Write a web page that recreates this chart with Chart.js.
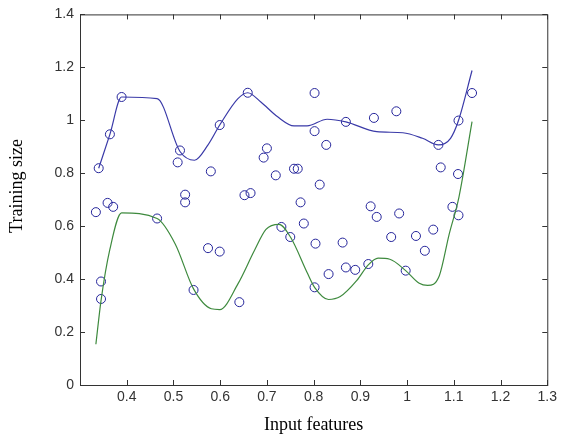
<!DOCTYPE html>
<html>
<head>
<meta charset="utf-8">
<script src="https://cdn.jsdelivr.net/npm/chart.js@4"></script>
<style>
  html, body { margin: 0; padding: 0; background: #fff; }
  #wrap { width: 561px; height: 439px; }
</style>
</head>
<body>
<div id="wrap"><canvas id="chart" width="561" height="439"></canvas></div>
<script>
// Тики осей
const xTicks = [0.4, 0.5, 0.6, 0.7, 0.8, 0.9, 1, 1.1, 1.2, 1.3];
const yTicks = [0, 0.2, 0.4, 0.6, 0.8, 1, 1.2, 1.4];
const xTitle = "Input features";
const yTitle = "Training size";

// Точки наблюдений (кружки)
const pointX = [0.340, 0.364, 0.389, 0.514, 0.509, 0.599, 0.659, 0.580, 0.700, 0.693,
  0.719, 0.758, 0.766, 0.525, 0.525, 0.652, 0.665, 0.334, 0.359, 0.371,
  0.465, 0.345, 0.345, 0.543, 0.574, 0.599, 0.641, 0.731, 0.750, 0.772,
  0.779, 0.802, 0.802, 0.827, 0.813, 0.869, 0.929, 0.977, 1.067, 1.110,
  1.139, 1.072, 1.109, 0.804, 0.802, 0.832, 0.862, 0.869, 0.889, 0.917,
  0.922, 0.935, 0.966, 0.983, 0.997, 1.019, 1.038, 1.056, 1.097, 1.110];
const pointY = [0.819, 0.947, 1.088, 0.886, 0.841, 0.982, 1.104, 0.807, 0.894, 0.859,
  0.792, 0.817, 0.817, 0.719, 0.690, 0.717, 0.725, 0.653, 0.688, 0.673,
  0.629, 0.391, 0.325, 0.359, 0.517, 0.504, 0.313, 0.597, 0.559, 0.690,
  0.610, 1.103, 0.959, 0.907, 0.757, 0.994, 1.009, 1.034, 0.907, 0.999,
  1.103, 0.822, 0.797, 0.534, 0.369, 0.419, 0.538, 0.444, 0.435, 0.457,
  0.675, 0.635, 0.559, 0.648, 0.432, 0.563, 0.507, 0.587, 0.673, 0.641];

// Верхняя кривая (синяя)
const upperX = [0.340, 0.364, 0.389, 0.465, 0.514, 0.545, 0.574, 0.599, 0.638, 0.659,
  0.687, 0.723, 0.758, 0.786, 0.829, 0.869, 0.935, 0.991, 1.033, 1.067,
  1.093, 1.110, 1.139];
const upperY = [0.819, 0.947, 1.088, 1.082, 0.882, 0.849, 0.907, 0.982, 1.082, 1.104,
  1.069, 1.013, 0.979, 0.979, 1.004, 0.994, 0.957, 0.953, 0.932, 0.907,
  0.932, 0.999, 1.188];

// Нижняя кривая (зелёная)
const lowerX = [0.334, 0.345, 0.364, 0.389, 0.465, 0.504, 0.543, 0.581, 0.599, 0.638,
  0.673, 0.698, 0.726, 0.751, 0.786, 0.802, 0.832, 0.857, 0.892, 0.917,
  0.938, 0.963, 0.997, 1.026, 1.044, 1.069, 1.090, 1.111, 1.139];
const lowerY = [0.154, 0.319, 0.513, 0.650, 0.629, 0.532, 0.363, 0.288, 0.285, 0.382,
  0.507, 0.588, 0.607, 0.557, 0.425, 0.369, 0.323, 0.334, 0.394, 0.454,
  0.479, 0.475, 0.432, 0.384, 0.376, 0.413, 0.569, 0.710, 0.995];

const toXY = (xs, ys) => xs.map((x, i) => ({ x: x, y: ys[i] }));

// Рамка, внутренние засечки и подпись оси Y
const framePlugin = {
  id: "frame",
  afterDraw(chart) {
    const ctx = chart.ctx;
    const a = chart.chartArea;
    const xs = chart.scales.x;
    const ys = chart.scales.y;
    ctx.save();
    ctx.strokeStyle = "#333";
    ctx.lineWidth = 1;
    ctx.strokeRect(a.left + 0.5, a.top + 0.5, a.right - a.left, a.bottom - a.top);
    ctx.beginPath();
    xTicks.forEach((v) => {
      const px = Math.round(xs.getPixelForValue(v)) + 0.5;
      ctx.moveTo(px, a.bottom);
      ctx.lineTo(px, a.bottom - 5);
      ctx.moveTo(px, a.top);
      ctx.lineTo(px, a.top + 5);
    });
    yTicks.forEach((v) => {
      const py = Math.round(ys.getPixelForValue(v)) + 0.5;
      ctx.moveTo(a.left, py);
      ctx.lineTo(a.left + 5, py);
      ctx.moveTo(a.right, py);
      ctx.lineTo(a.right - 5, py);
    });
    ctx.stroke();

    // подпись оси Y чуть выше середины, как в оригинале
    ctx.translate(17, 186);
    ctx.rotate(-Math.PI / 2);
    ctx.font = "18px 'Liberation Serif'";
    ctx.fillStyle = "#000";
    ctx.textAlign = "center";
    ctx.textBaseline = "middle";
    ctx.fillText(yTitle, 0, 0);
    ctx.restore();
  },
};

const tickFont = { family: "Liberation Sans", size: 14 };
const titleFont = { family: "Liberation Serif", size: 18 };

new Chart(document.getElementById("chart").getContext("2d"), {
  type: "scatter",
  data: {
    datasets: [
      {
        data: toXY(upperX, upperY),
        showLine: true,
        borderColor: "#3a3aa8",
        borderWidth: 1.2,
        pointRadius: 0,
        cubicInterpolationMode: "monotone",
      },
      {
        data: toXY(lowerX, lowerY),
        showLine: true,
        borderColor: "#3e8a3e",
        borderWidth: 1.2,
        pointRadius: 0,
        cubicInterpolationMode: "monotone",
      },
      {
        data: toXY(pointX, pointY),
        pointStyle: "circle",
        pointRadius: 4.5,
        borderWidth: 1,
        borderColor: "#24249a",
        backgroundColor: "rgba(0,0,0,0)",
      },
    ],
  },
  options: {
    responsive: false,
    animation: false,
    layout: { padding: { top: 12, right: 9, left: 0, bottom: 0 } },
    plugins: {
      legend: { display: false },
      tooltip: { enabled: false },
    },
    scales: {
      x: {
        type: "linear",
        min: 0.3,
        max: 1.3,
        grid: { display: false, drawTicks: false },
        border: { display: false },
        afterBuildTicks: (scale) => {
          scale.ticks = xTicks.map((v) => ({ value: v }));
        },
        afterFit: (scale) => {
          scale.height = 54;
        },
        ticks: {
          font: tickFont,
          color: "#333",
          padding: 4,
          maxRotation: 0,
          callback: (v) => String(Math.round(v * 10) / 10),
        },
        title: {
          display: true,
          text: xTitle,
          font: titleFont,
          color: "#000",
          padding: { top: 0, bottom: 3 },
        },
      },
      y: {
        min: 0,
        max: 1.4,
        grid: { display: false, drawTicks: false },
        border: { display: false },
        afterBuildTicks: (scale) => {
          scale.ticks = yTicks.map((v) => ({ value: v }));
        },
        afterFit: (scale) => {
          scale.width = 80;
        },
        ticks: {
          font: tickFont,
          color: "#333",
          padding: 6,
          callback: (v) => String(Math.round(v * 10) / 10),
        },
      },
    },
  },
  plugins: [framePlugin],
});
</script>
</body>
</html>
